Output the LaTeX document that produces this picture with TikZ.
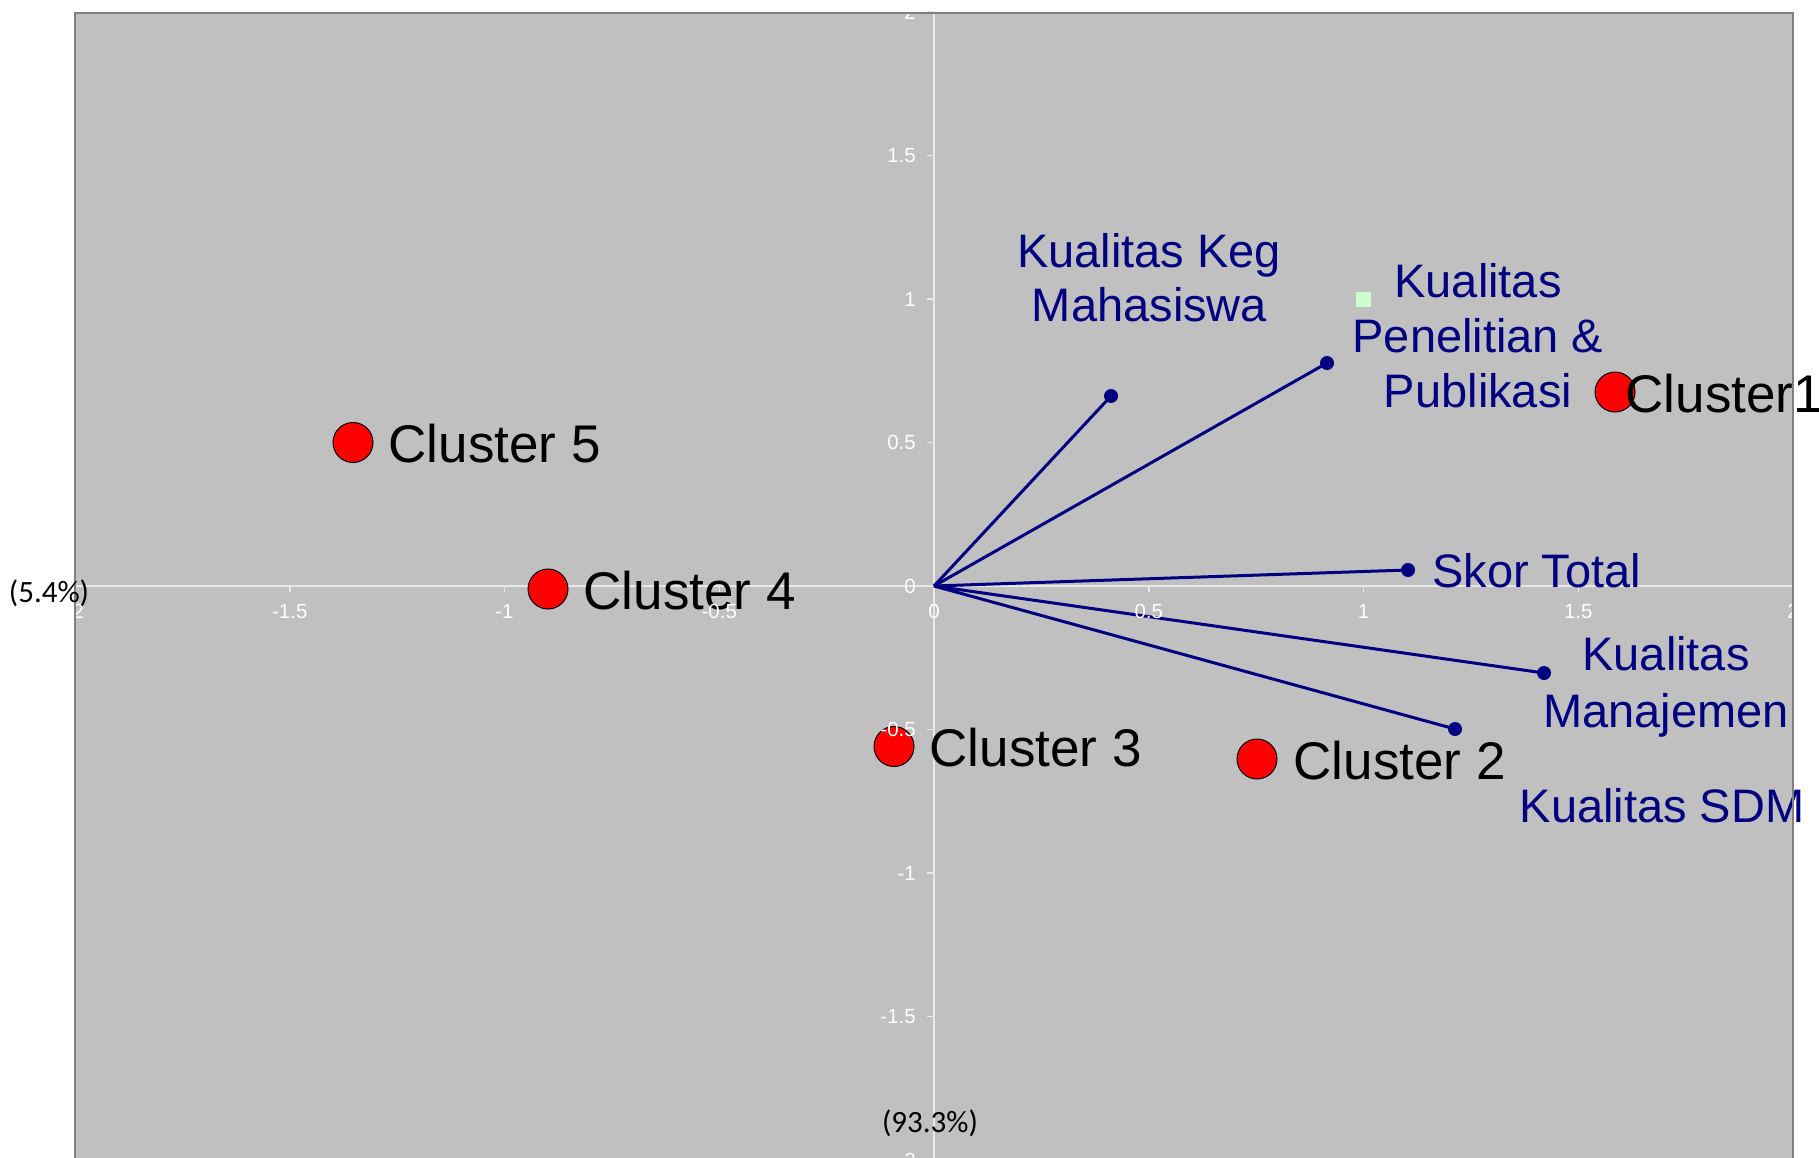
\documentclass[tikz,border=0pt]{standalone}
\usepackage{fontspec}
\setmainfont{Liberation Sans}
\newfontfamily\calibfont{Carlito}
\definecolor{plotbg}{HTML}{C0C0C0}
\definecolor{navyc}{HTML}{000080}
\definecolor{axisc}{HTML}{E8E8E8}
\definecolor{borderc}{HTML}{808080}
\definecolor{lightgreen}{HTML}{CCFFCC}
\begin{document}
\begin{tikzpicture}[x=1pt,y=-1pt,
  clusterpt/.style={circle,draw=black,line width=1pt,fill=red,minimum size=40pt,inner sep=0pt},
  dotpt/.style={circle,fill=navyc,minimum size=14pt,inner sep=0pt},
  vec/.style={navyc,line width=3pt},
  varlabel/.style={text=navyc,font=\fontsize{47}{54}\selectfont,inner sep=0pt,anchor=base},
  clabel/.style={text=black,font=\fontsize{53}{60}\selectfont,inner sep=0pt,anchor=base west},
  ticklabel/.style={text=white,font=\fontsize{20.5}{24}\selectfont,inner sep=0pt},
  pct/.style={text=black,font=\calibfont\fontsize{31}{36}\selectfont,inner sep=0pt},
  axisline/.style={axisc,line width=2.5pt},
  tickmark/.style={axisc,line width=1.5pt}]
\useasboundingbox (0,0) rectangle (1819,1158);
\fill[white] (0,0) rectangle (1819,1158);
\fill[plotbg] (75,13) rectangle (1793,1170);
% axes
\draw[axisline] (75,586) -- (1793,586);
\draw[axisline] (934,13) -- (934,1170);
\foreach \i in {0,...,8} {
  \draw[tickmark] ({75+\i*214.75},586) -- ++(0,6);
  \draw[tickmark] (934,{12+\i*143.5}) -- ++(-7,0);
}
% vectors
\coordinate (O) at (934,586);
\node[dotpt] (keg) at (1111,396) {};
\node[dotpt] (pen) at (1327,363) {};
\node[dotpt] (skor) at (1408,570) {};
\node[dotpt] (man) at (1544,673) {};
\node[dotpt] (sdm) at (1455,729) {};
\draw[vec] (O) -- (keg.center);
\draw[vec] (O) -- (pen.center);
\draw[vec] (O) -- (skor.center);
\draw[vec] (O) -- (man.center);
\draw[vec] (O) -- (sdm.center);
% green marker
\node[fill=lightgreen,minimum size=15pt,inner sep=0pt] (gsq) at (1363,299) {};
% clusters
\node[clusterpt] (c1) at (1615,392) {};
\node[clusterpt] (c2) at (1257,759) {};
\node[clusterpt] (c3) at (894,746.5) {};
\node[clusterpt] (c4) at (548,589) {};
\node[clusterpt] (c5) at (353,442.5) {};
\node[clabel] (c1l) at (1625.5,412) {Cluster1};
\node[clabel] (c2l) at (1293.5,779) {Cluster 2};
\node[clabel] (c3l) at (929.5,766.5) {Cluster 3};
\node[clabel] (c4l) at (583.5,609) {Cluster 4};
\node[clabel] (c5l) at (388.5,462.5) {Cluster 5};
% variable labels
\node[varlabel] (kegA) at (1149,267) {Kualitas Keg};
\node[varlabel] (kegB) at (1149.5,321) {Mahasiswa};
\node[varlabel] (penA) at (1478,297) {Kualitas};
\node[varlabel] (penB) at (1478,352) {Penelitian \&};
\node[varlabel] (penC) at (1478,407) {Publikasi};
\node[varlabel,anchor=base west] (skorl) at (1432,587) {Skor Total};
\node[varlabel] (manA) at (1666,670) {Kualitas};
\node[varlabel] (manB) at (1666,727) {Manajemen};
\node[varlabel] (sdml) at (1662,822) {Kualitas SDM};
% tick labels
\foreach \v [count=\i from 0] in {-2,-1.5,-1,-0.5,0,0.5,1,1.5,2} {
  \node[ticklabel,anchor=north] (xl\i) at ({75+\i*214.75},604) {\v};
}
\foreach \v [count=\i from 0] in {2,1.5,1,0.5,0,-0.5,-1,-1.5,-2} {
  \node[ticklabel,anchor=east] (yl\i) at (916,{12+\i*143.5}) {\v};
}
% border
\draw[borderc,line width=2pt] (75,1170) -- (75,13) -- (1793,13) -- (1793,1170);
% percentages
\node[pct] (px) at (49,593) {(5.4\%)};
\node[pct] (py) at (930,1123) {(93.3\%)};
\end{tikzpicture}
\end{document}
